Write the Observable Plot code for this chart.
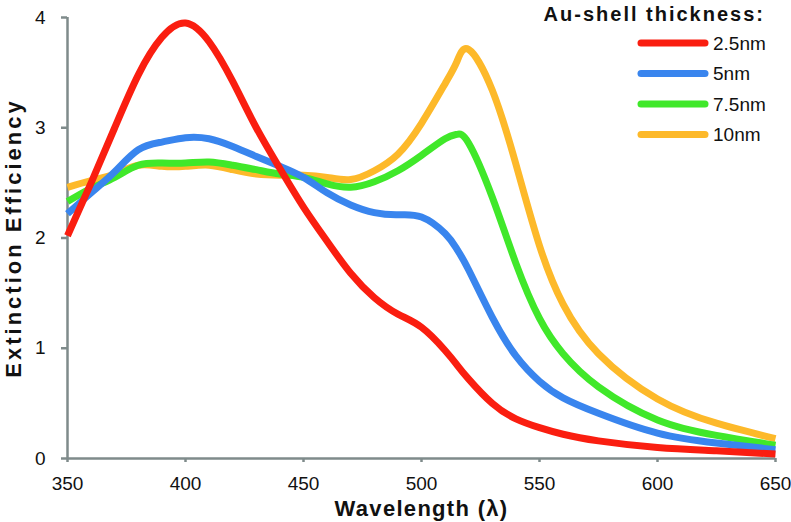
<!DOCTYPE html>
<html>
<head>
<meta charset="utf-8">
<script src="https://cdn.jsdelivr.net/npm/d3@7"></script>
<script src="https://cdn.jsdelivr.net/npm/@observablehq/plot@0.6"></script>
<style>
  html, body { margin: 0; padding: 0; background: #fff; }
  #chart { position: relative; width: 791px; height: 522px; }
</style>
</head>
<body>
<div id="chart"></div>
<script>
// ---- data ----
const wavelength = [350,360,370,380,390,400,410,420,430,440,450,460,470,480,490,500,510,515,520,530,540,550,560,575,600,625,650];
const shell25 = [2.02,2.50,3.00,3.48,3.82,3.95,3.78,3.42,3.00,2.63,2.28,1.97,1.68,1.46,1.31,1.19,0.98,0.85,0.72,0.50,0.36,0.28,0.22,0.16,0.10,0.07,0.04];
const shell5  = [2.22,2.41,2.60,2.80,2.87,2.91,2.90,2.83,2.74,2.65,2.55,2.41,2.30,2.23,2.21,2.19,2.04,1.90,1.71,1.28,0.93,0.70,0.55,0.41,0.23,0.14,0.08];
const shell75 = [2.33,2.45,2.55,2.66,2.68,2.68,2.69,2.66,2.62,2.58,2.55,2.49,2.46,2.51,2.61,2.75,2.90,2.94,2.86,2.37,1.77,1.27,0.95,0.65,0.35,0.21,0.12];
const shell10 = [2.46,2.52,2.58,2.66,2.65,2.65,2.66,2.62,2.58,2.57,2.57,2.55,2.53,2.61,2.76,3.04,3.40,3.60,3.71,3.34,2.67,1.93,1.40,0.95,0.54,0.32,0.18];
const seriesNames = ["2.5nm","5nm","7.5nm","10nm"];
const seriesColors = ["#fa1e10","#3985ee","#40e82a","#fdb92a"];
const seriesValues = [shell25, shell5, shell75, shell10];
const xTicks = [350,400,450,500,550,600,650];
const yTicks = [0,1,2,3,4];
const xLabel = "Wavelength (λ)";
const yLabel = "Extinction Efficiency";
const legendTitle = "Au-shell thickness:";

const rows = [];
seriesNames.forEach((name, i) => {
  wavelength.forEach((w, j) => rows.push({series: name, order: i, wavelength: w, value: seriesValues[i][j]}));
});

const gray = "#7f8b8b";
const font = "'Liberation Sans', Arial, Helvetica, sans-serif";

const lineMarks = [3,2,1,0].map(i =>
  Plot.line(rows.filter(d => d.order === i), {
    x: "wavelength", y: "value", stroke: seriesColors[i], strokeWidth: 7,
    curve: "natural", strokeLinecap: "butt", strokeLinejoin: "round"
  })
);

const chart = Plot.plot({
  width: 791,
  height: 522,
  marginLeft: 67,
  marginRight: 16,
  marginTop: 17,
  marginBottom: 64,
  style: { fontFamily: font, fontSize: "19px", color: "#111", background: "white" },
  x: { domain: [350, 650] },
  y: { domain: [0, 4] },
  marks: [
    Plot.axisX({ticks: xTicks, tickSize: 4, tickPadding: 14, stroke: gray, strokeWidth: 2.5, label: null, fontSize: 19, tickFormat: d => String(d)}),
    Plot.axisY({ticks: yTicks, tickSize: 6, tickPadding: 16, stroke: gray, strokeWidth: 2.5, label: null, fontSize: 19, tickFormat: d => String(d)}),
    Plot.ruleY([0], {stroke: gray, strokeWidth: 2.5}),
    Plot.ruleX([350], {stroke: gray, strokeWidth: 2.5}),
    ...lineMarks,
    Plot.text([xLabel], {text: d => d, frameAnchor: "bottom", dy: 50, lineAnchor: "middle", textAnchor: "middle", fontWeight: "bold", fontSize: 22, fill: "#111"}),
    Plot.text([yLabel], {text: d => d, frameAnchor: "left", dx: -54, rotate: -90, lineAnchor: "middle", textAnchor: "middle", fontWeight: "bold", fontSize: 22, fill: "#111"})
  ]
});

document.getElementById("chart").appendChild(chart);

const svg = d3.select(chart);
svg.selectAll("text").filter(function() { return this.textContent === xLabel; }).style("letter-spacing", "1.3px");
svg.selectAll("text").filter(function() { return this.textContent === yLabel; }).style("letter-spacing", "3px");

// ---- legend ----
const lg = svg.append("g").attr("font-family", font).attr("text-anchor", "start");
lg.append("text")
  .attr("x", 765).attr("y", 21)
  .attr("text-anchor", "end")
  .attr("font-weight", "bold")
  .attr("font-size", 20)
  .style("letter-spacing", "2px")
  .attr("fill", "#111")
  .text(legendTitle);
seriesNames.forEach((name, i) => {
  const y = 43 + i * 30.5;
  lg.append("line")
    .attr("x1", 641).attr("x2", 705).attr("y1", y).attr("y2", y)
    .attr("stroke", seriesColors[i]).attr("stroke-width", 7).attr("stroke-linecap", "round");
  lg.append("text")
    .attr("x", 713).attr("y", y).attr("dy", "0.35em")
    .attr("text-anchor", "start")
    .attr("font-size", 19).attr("fill", "#111")
    .text(name);
});
</script>
</body>
</html>
